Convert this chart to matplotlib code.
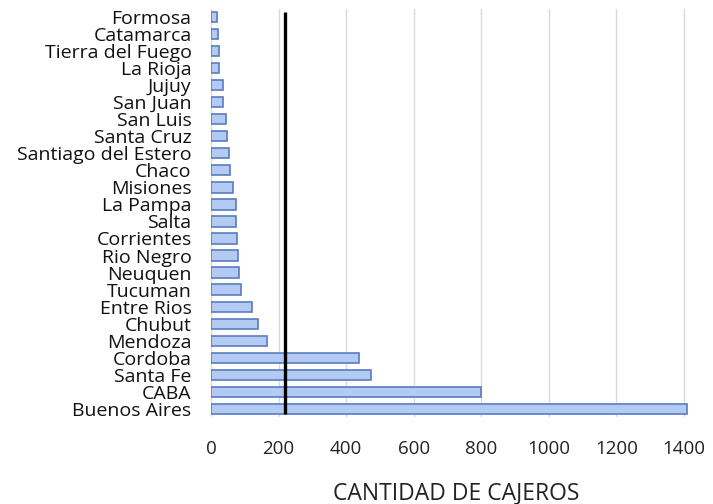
import matplotlib
matplotlib.use("Agg")
import matplotlib.pyplot as plt

provincias = ["Buenos Aires", "CABA", "Santa Fe", "Cordoba", "Mendoza", "Chubut",
              "Entre Rios", "Tucuman", "Neuquen", "Rio Negro", "Corrientes", "Salta",
              "La Pampa", "Misiones", "Chaco", "Santiago del Estero", "Santa Cruz",
              "San Luis", "San Juan", "Jujuy", "La Rioja", "Tierra del Fuego",
              "Catamarca", "Formosa"]
cajeros = [1410, 799, 473, 438, 165, 139, 121, 90, 83, 79, 76, 74, 73, 64, 56, 52,
           46, 44, 36, 35, 25, 24, 22, 17]
referencia = 220
xticks = [0, 200, 400, 600, 800, 1000, 1200, 1400]

plt.rcParams['font.family'] = ['Open Sans', 'DejaVu Sans']

fig = plt.figure(figsize=(7.13, 5.04), dpi=100)
ax = fig.add_axes([0.296, 0.172, 0.687, 0.811])

ypos = list(range(len(provincias)))
ax.barh(ypos, cajeros, height=0.6, color='#b3cbf2', edgecolor='#5a7cbf', linewidth=1.2, zorder=3)
ax.vlines(referencia, -0.3, len(provincias) - 0.7, color='black', linewidth=2.4, zorder=4)

ax.set_ylim(-0.5, len(provincias) - 0.5)
ax.set_xlim(0, 1450)
ax.set_yticks(ypos)
ax.set_yticklabels(provincias, fontsize=14, color='#111111')
ax.set_xticks(xticks)
ax.set_xticklabels([str(t) for t in xticks], fontsize=13.5, color='#222222')
ax.tick_params(axis='y', length=0, pad=14)
ax.tick_params(axis='x', length=0, pad=16)
ax.xaxis.grid(True, color='#d9d9d9', linewidth=1, zorder=0)
ax.set_axisbelow(True)
for s in ax.spines.values():
    s.set_visible(False)
ax.set_xlabel("CANTIDAD DE CAJEROS", fontsize=16.5, labelpad=17, color='#222222')

fig.savefig("out.png", dpi=100)
